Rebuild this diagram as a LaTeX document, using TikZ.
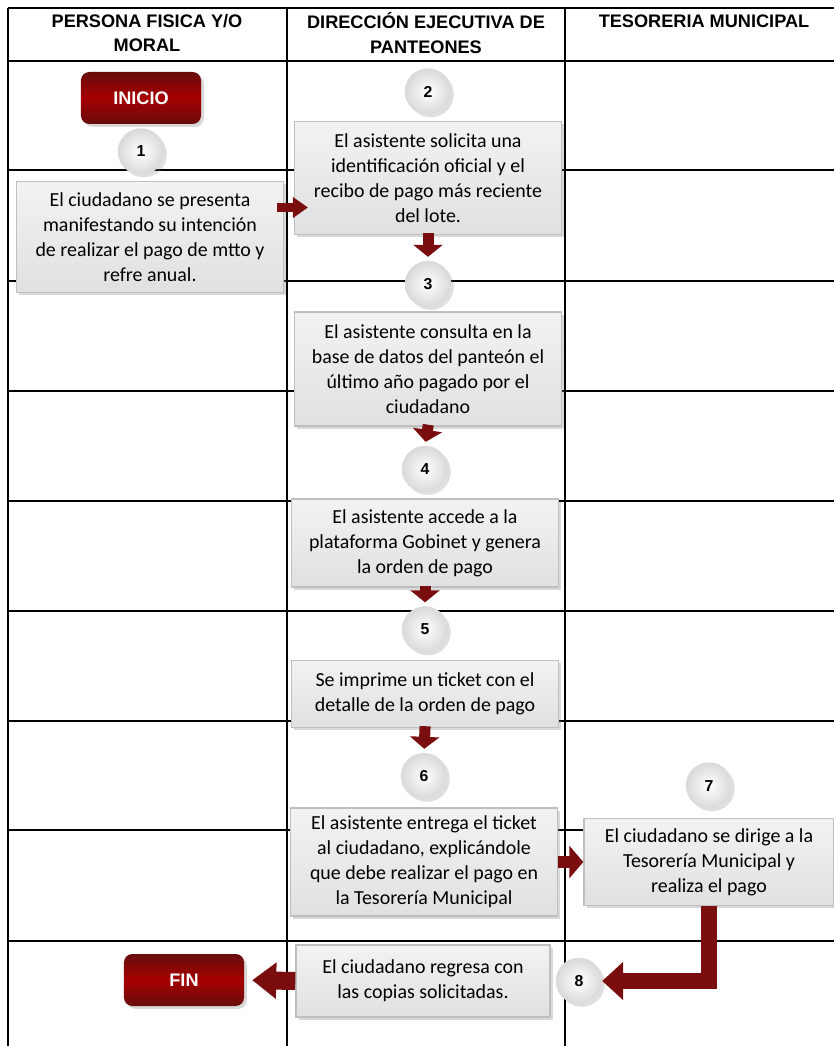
\documentclass[tikz,border=0pt]{standalone}
\usepackage{fontspec}
\setmainfont{Carlito}
\newfontfamily\arialb{Liberation Sans}
\usetikzlibrary{positioning,shapes,arrows.meta,shadows,calc}
\definecolor{guinda}{HTML}{7A0E0E}

\begin{document}
\begin{tikzpicture}[
  x=0.03cm, y=-0.03cm,
  node distance=0.18cm,
  encab/.style={align=center,inner sep=0pt,font=\arialb\fontsize{15.5}{21.3}\selectfont\bfseries},
  paso/.style={draw=gray!50,line width=1.2pt,top color=gray!10,bottom color=gray!24,
    drop shadow={opacity=0.3},minimum width=8cm,align=center,inner sep=2pt,
    font=\fontsize{17}{21.3}\selectfont},
  num/.style={circle,minimum size=1.38cm,inner sep=0pt,draw=gray!25,
    inner color=white,outer color=gray!30,drop shadow={opacity=0.25},
    font=\arialb\fontsize{13.5}{13.5}\selectfont\bfseries},
  term/.style={rounded corners=0.25cm,minimum width=3.6cm,minimum height=1.56cm,
    top color=guinda!85!black,bottom color=guinda!85!black,middle color=red!65!black,
    drop shadow={opacity=0.3},text=white,font=\arialb\fontsize{15.5}{15.5}\selectfont\bfseries},
  flecha/.style n args={3}{draw=guinda,line width=#1,-{Triangle[length=#2,width=#3]}}
]
\useasboundingbox (0,0) rectangle (833,1046);
% tabla
\foreach \y in {8,61,170,281,391,501,611,721,830,941}
  \draw[line width=0.9pt] (8,\y) -- (845,\y);
\foreach \x in {8,287,565}
  \draw[line width=0.9pt] (\x,8) -- (\x,1050);

\node[encab] (h1) at (147,33) {PERSONA FISICA Y/O\\MORAL};
\node[encab] (h2) at (426,33) {DIRECCIÓN EJECUTIVA DE\\PANTEONES};
\node[encab] (h3) at (704,21) {TESORERIA MUNICIPAL};

% pasos
\node[term] (inicio) at (141,98) {INICIO};
\node[paso,minimum height=3.33cm] (b1) at (150,237) {El ciudadano se presenta\\manifestando su intención\\de realizar el pago de mtto y\\refre anual.};
\node[paso,minimum height=3.39cm] (b2) at (428,178) {El asistente solicita una\\identificación oficial y el\\recibo de pago más reciente\\del lote.};
\node[paso,minimum height=3.42cm] (b3) at (428,369) {El asistente consulta en la\\base de datos del panteón el\\último año pagado por el\\ciudadano};
\node[paso,minimum height=2.64cm] (b4) at (425,543) {El asistente accede a la\\plataforma Gobinet y genera\\la orden de pago};
\node[paso,minimum height=2.01cm] (b5) at (425,694) {Se imprime un ticket con el\\detalle de la orden de pago};
\node[paso,minimum height=3.24cm] (b6) at (424,862) {El asistente entrega el ticket\\al ciudadano, explicándole\\que debe realizar el pago en\\la Tesorería Municipal};
\node[paso,minimum height=2.61cm,minimum width=7.5cm] (b7) at (709,862) {El ciudadano se dirige a la\\Tesorería Municipal y\\realiza el pago};
\node[paso,minimum height=2.16cm,minimum width=7.62cm] (b8) at (423,981) {El ciudadano regresa con\\las copias solicitadas.};
\node[term] (fin) at (184,980) {FIN};

% numeros
\node[num,above=of b1,xshift=-0.27cm] (c1) {1};
\node[num,above=of b2] (c2) {2};
\node[num,above=0.12cm of b3] (c3) {3};
\node[num,above=of b4] (c4) {4};
\node[num,above=0.21cm of b5] (c5) {5};
\node[num,above=0.24cm of b6] (c6) {6};
\node[num,above=0.27cm of b7] (c7) {7};
\node[num,right=0.15cm of b8] (c8) {8};

% flechas
\coordinate (m12) at ($(b1.east)!0.5!(b2.west)$);
\draw[flecha={0.27cm}{0.45cm}{0.6cm},shorten <=-0.2cm,shorten >=-0.42cm] (b1.east |- m12) -- (b2.west |- m12);
\foreach \a/\b in {b2/c3,b3/c4,b4/c5,b5/c6}
  \draw[flecha={0.33cm}{0.36cm}{0.87cm},shorten <=-0.06cm,shorten >=0.12cm] (\a.south) -- (\b.north);
\draw[flecha={0.36cm}{0.42cm}{0.96cm}] (b6.east) -- (b7.west);
\draw[flecha={0.48cm}{0.63cm}{1.11cm}] (b7.south) |- (c8.east);
\draw[flecha={0.54cm}{0.72cm}{1.05cm},shorten >=0.24cm] (b8.west) -- (fin.east);
\end{tikzpicture}
\end{document}
